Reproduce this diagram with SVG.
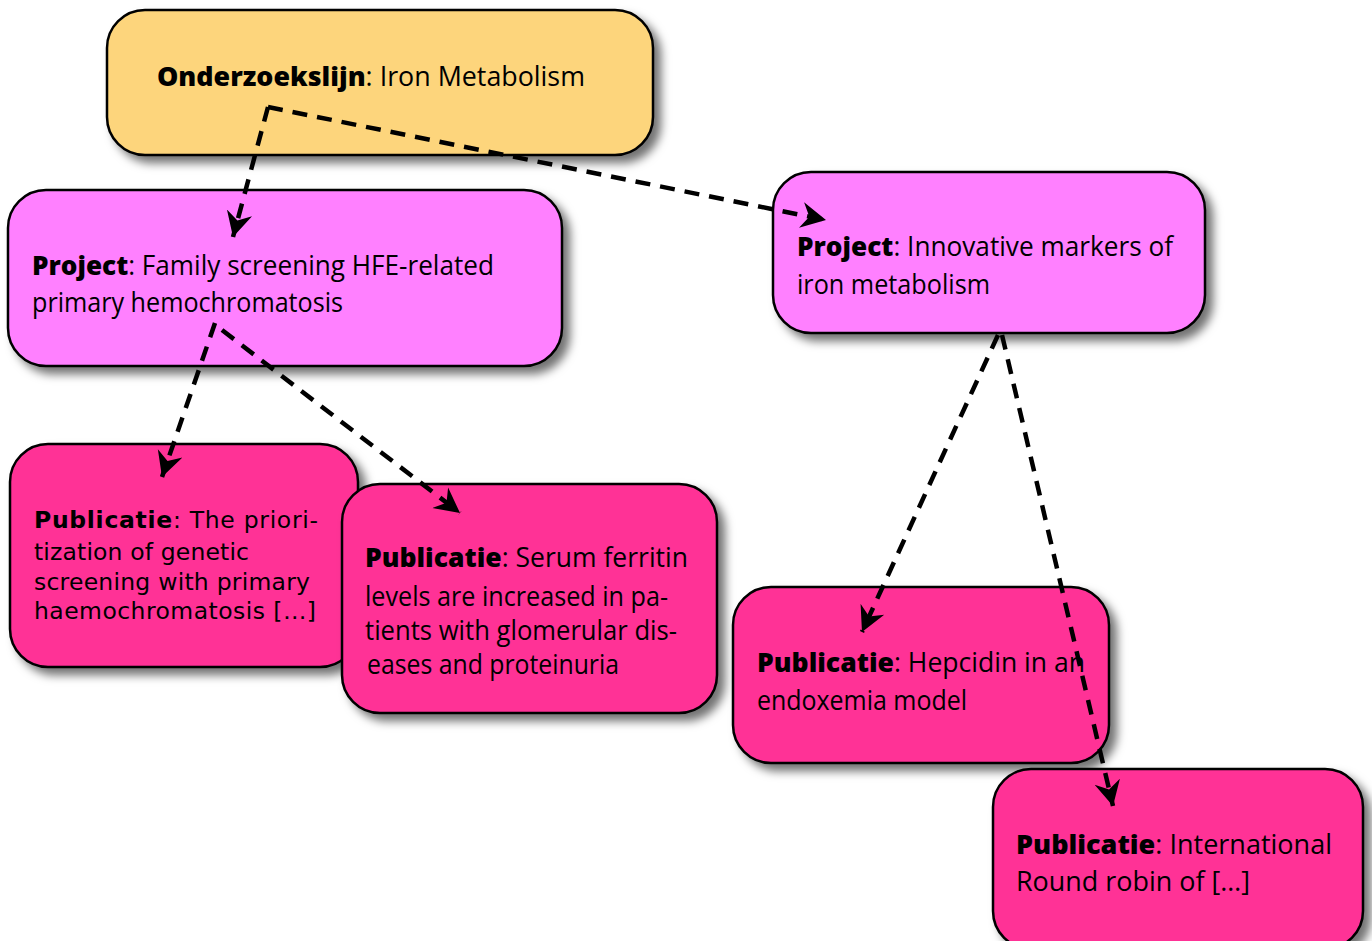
<svg xmlns="http://www.w3.org/2000/svg" width="1372" height="941" viewBox="0 0 1372 941">
<defs>
<filter id="sh" x="-10%" y="-10%" width="130%" height="140%">
<feDropShadow dx="7" dy="7" stdDeviation="5" flood-color="#000" flood-opacity="0.55"/>
</filter>
<marker id="ah" markerUnits="userSpaceOnUse" markerWidth="26" markerHeight="28" refX="25" refY="14" orient="auto" viewBox="0 0 26 28">
<path d="M0,1 L25,14 L0,27 L8,14 z" fill="#000"/>
</marker>
<style>
.box{stroke:#000;stroke-width:2.5;filter:url(#sh)}
.y{fill:#FDD57B}
.p{fill:#FF80FF}
.u{fill:#FF3196}
.t{font-family:"Open Sans",Lato,"Liberation Sans",sans-serif;font-size:26.5px;fill:#000}
.v{font-family:"DejaVu Sans",Verdana,sans-serif;font-size:23.5px;fill:#000}
.b{font-weight:800}
.c{fill:none;stroke:#000;stroke-width:4.5;stroke-dasharray:15 10;marker-end:url(#ah)}
</style>
</defs>
<rect width="1372" height="941" fill="#fff"/>
<g id="onderzoekslijn">
<rect class="box y" x="107" y="10" width="546" height="145" rx="38"/>
<text class="t" x="157" y="86" textLength="428" lengthAdjust="spacingAndGlyphs"><tspan class="b">Onderzoekslijn</tspan>: Iron Metabolism</text>
</g>
<g id="project1">
<rect class="box p" x="8" y="190" width="554" height="176" rx="38"/>
<text class="t" x="32" y="275" textLength="462" lengthAdjust="spacingAndGlyphs"><tspan class="b">Project</tspan>: Family screening HFE-related</text>
<text class="t" x="32" y="312" textLength="311" lengthAdjust="spacingAndGlyphs">primary hemochromatosis</text>
</g>
<g id="project2">
<rect class="box p" x="773" y="172" width="432" height="161" rx="38"/>
<text class="t" x="797" y="256" textLength="376" lengthAdjust="spacingAndGlyphs"><tspan class="b">Project</tspan>: Innovative markers of</text>
<text class="t" x="797" y="294" textLength="193" lengthAdjust="spacingAndGlyphs">iron metabolism</text>
</g>
<g id="pub1">
<rect class="box u" x="10" y="444" width="348" height="223" rx="38"/>
<text class="v" x="34" y="528" textLength="284" lengthAdjust="spacing"><tspan class="b">Publicatie</tspan>: The priori-</text>
<text class="v" x="34" y="560" textLength="215" lengthAdjust="spacing">tization of genetic</text>
<text class="v" x="34" y="590" textLength="276" lengthAdjust="spacing">screening with primary</text>
<text class="v" x="34" y="619" textLength="282" lengthAdjust="spacing">haemochromatosis […]</text>
</g>
<g id="pub2">
<rect class="box u" x="342" y="484" width="375" height="229" rx="38"/>
<text class="t" x="365" y="567" textLength="323" lengthAdjust="spacingAndGlyphs"><tspan class="b">Publicatie</tspan>: Serum ferritin</text>
<text class="t" x="365" y="606" textLength="303" lengthAdjust="spacingAndGlyphs">levels are increased in pa-</text>
<text class="t" x="365" y="640" textLength="312" lengthAdjust="spacingAndGlyphs">tients with glomerular dis-</text>
<text class="t" x="367" y="674" textLength="252" lengthAdjust="spacingAndGlyphs">eases and proteinuria</text>
</g>
<g id="pub3">
<rect class="box u" x="733" y="587" width="376" height="176" rx="38"/>
<text class="t" x="757" y="672" textLength="328" lengthAdjust="spacingAndGlyphs"><tspan class="b">Publicatie</tspan>: Hepcidin in an</text>
<text class="t" x="757" y="710" textLength="210" lengthAdjust="spacingAndGlyphs">endoxemia model</text>
</g>
<g id="pub4">
<rect class="box u" x="993" y="769" width="370" height="180" rx="38"/>
<text class="t" x="1016" y="854" textLength="316" lengthAdjust="spacingAndGlyphs"><tspan class="b">Publicatie</tspan>:  International</text>
<text class="t" x="1016" y="891" textLength="234" lengthAdjust="spacingAndGlyphs">Round robin of  […]</text>
</g>
<g id="connectors">
<path class="c" d="M268,107 L233,237"/>
<path class="c" d="M268,107 L826,220"/>
<path class="c" d="M215,323 L162,477"/>
<path class="c" d="M222,330 L460,513"/>
<path class="c" d="M998,335 L862,632"/>
<path class="c" d="M1002,335 L1113,806"/>
</g>
</svg>
